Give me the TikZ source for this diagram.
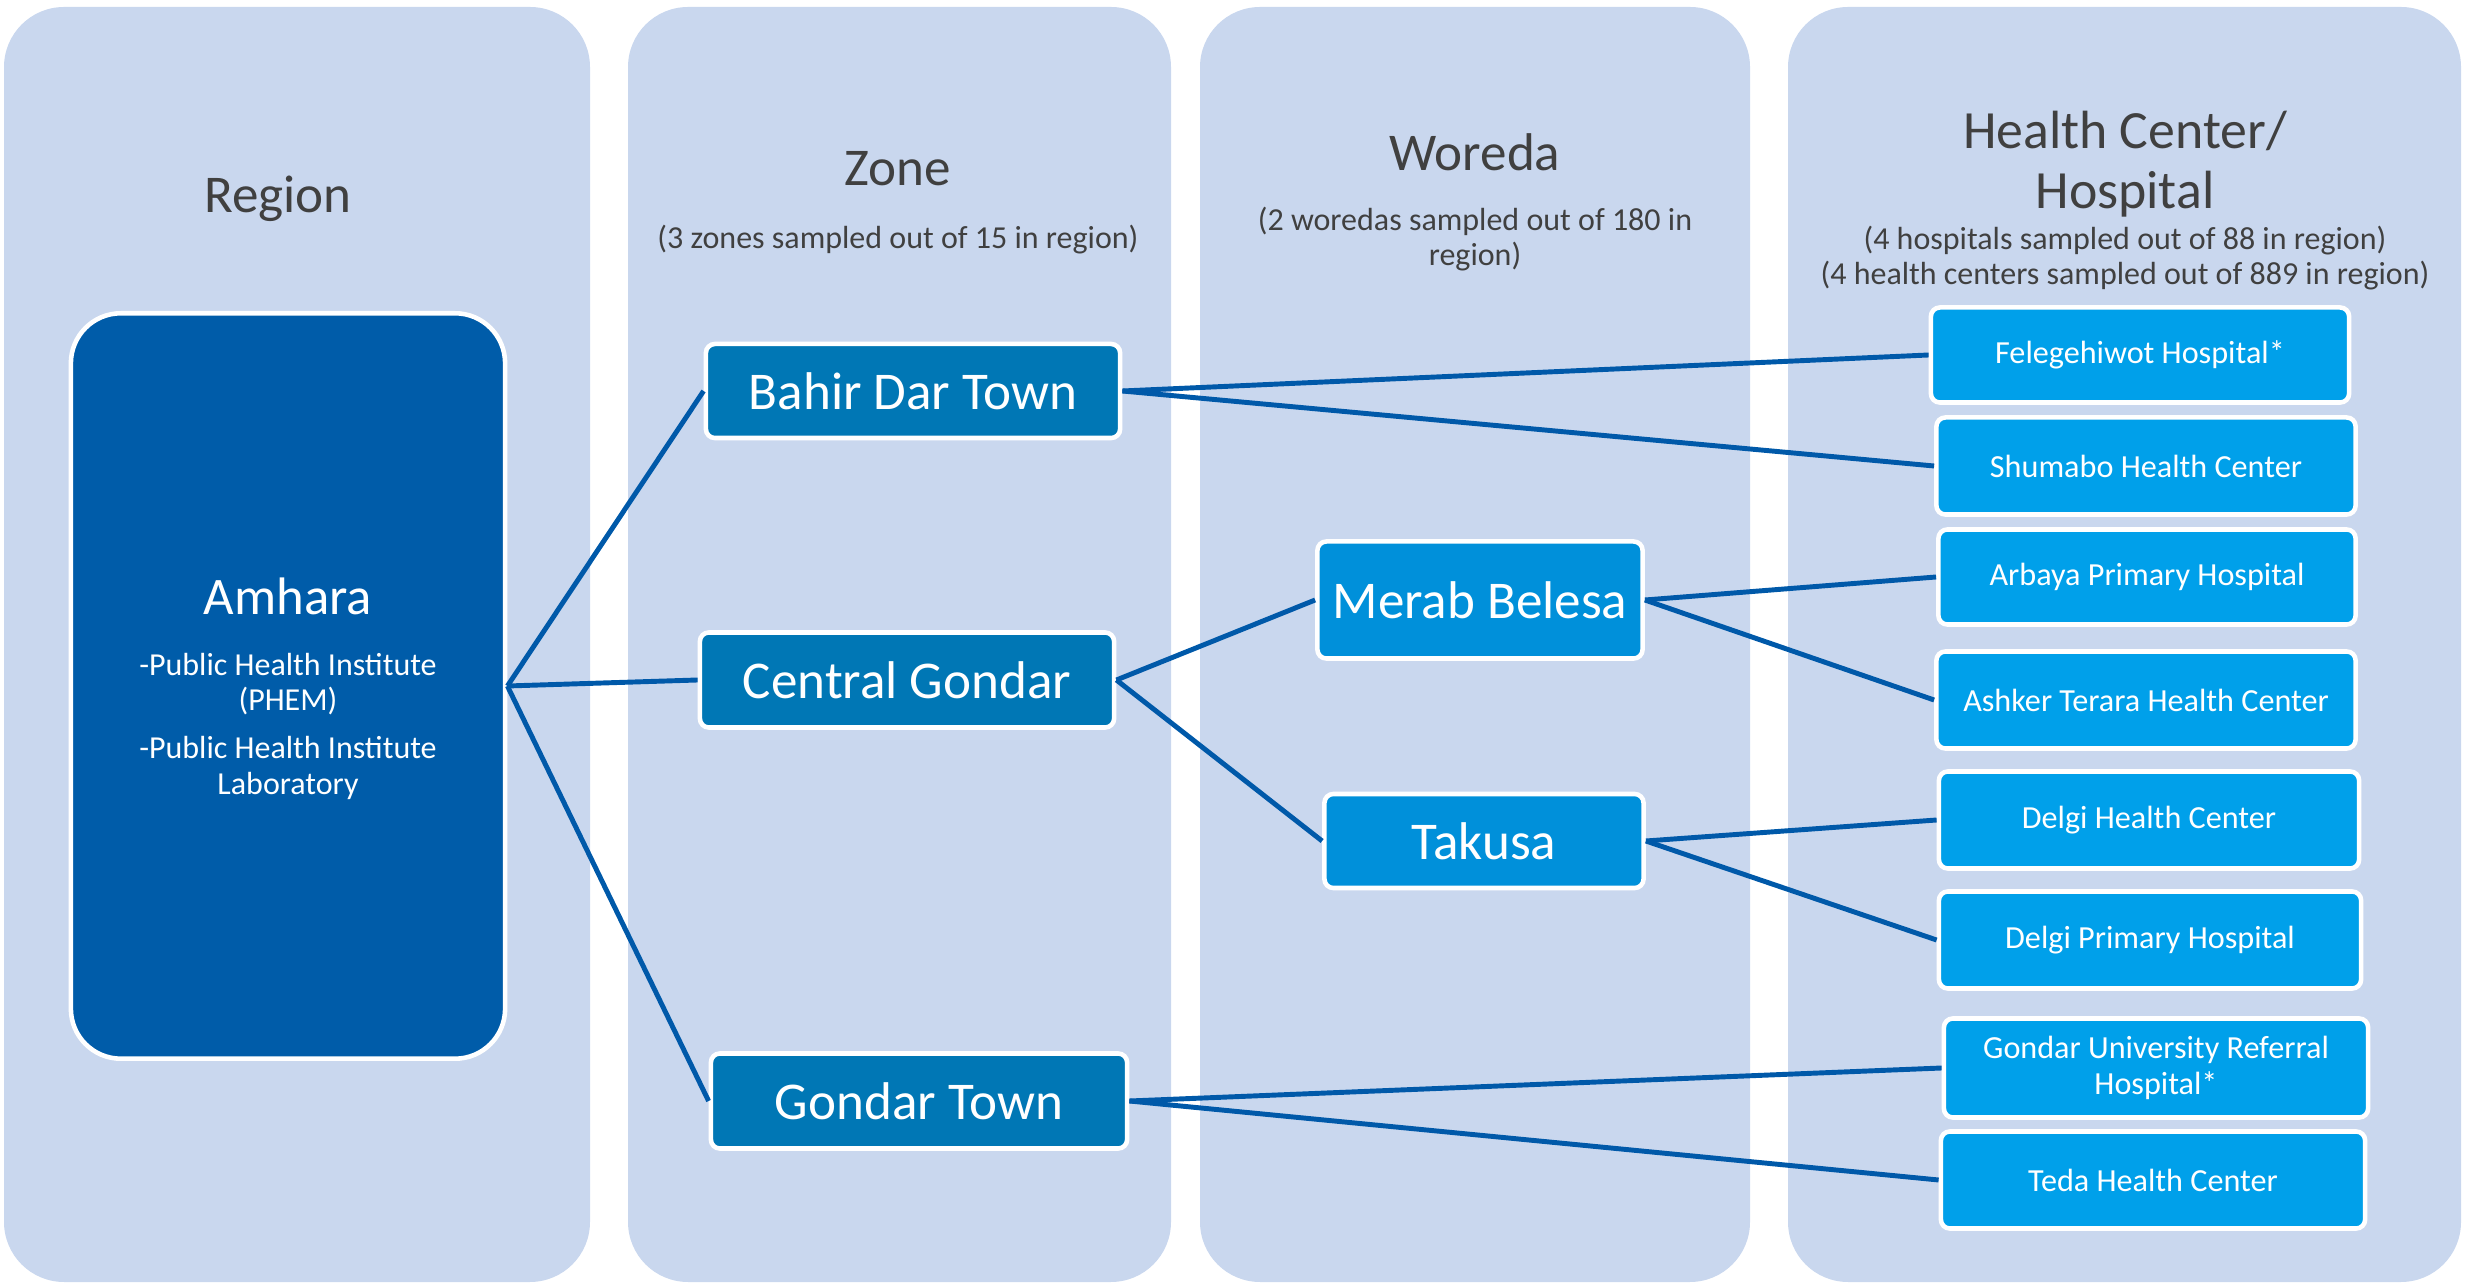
\documentclass[tikz,border=0pt]{standalone}
\usepackage{fontspec}
\setmainfont{Carlito}
\definecolor{colbg}{HTML}{C9D7EE}
\definecolor{regbox}{HTML}{005CA9}
\definecolor{zonebox}{HTML}{0077B5}
\definecolor{worbox}{HTML}{0090DA}
\definecolor{hosbox}{HTML}{00A0EA}
\definecolor{linkc}{HTML}{0059A9}
\definecolor{titlec}{HTML}{404040}
\tikzset{
  colpanel/.style={fill=colbg, rounded corners=0.6cm},
  boxbase/.style={draw=white, line width=1.3pt, rounded corners=0.09cm, inner sep=0pt, text=white, align=center},
  regstyle/.style={boxbase, fill=regbox, rounded corners=0.5cm},
  zonestyle/.style={boxbase, fill=zonebox, font=\fontsize{15.1}{17}\selectfont},
  worstyle/.style={boxbase, fill=worbox, font=\fontsize{15.1}{17}\selectfont},
  hosstyle/.style={boxbase, fill=hosbox, font=\fontsize{9.15}{10}\selectfont},
  link/.style={draw=linkc, line width=1.4pt},
  coltitle/.style={text=titlec, font=\fontsize{15.1}{17}\selectfont, align=center, inner sep=0pt},
  colsub/.style={text=titlec, font=\fontsize{9.1}{10}\selectfont, align=center, inner sep=0pt},
  regtext/.style={text=white, align=center, inner sep=0pt}
}
\begin{document}
\begin{tikzpicture}[x=0.01cm,y=-0.01cm]
\useasboundingbox (0,0) rectangle (2466,1283);
% column panels
\path[colpanel] (4,7) rectangle (590,1282);
\path[colpanel] (628,7) rectangle (1171,1282);
\path[colpanel] (1200,7) rectangle (1750,1282);
\path[colpanel] (1788,7) rectangle (2461,1282);
% titles
\node[coltitle] (tregion) at (278,199) {Region};
\node[coltitle] (tzone) at (898,169) {Zone};
\node[colsub] (szone) at (898,240) {(3 zones sampled out of 15 in region)};
\node[coltitle] (tworeda) at (1475,152) {Woreda};
\node[colsub] (sworeda) at (1475,239) {(2 woredas sampled out of 180 in\\region)};
\node[coltitle, font=\fontsize{15.3}{17}\selectfont] (thc) at (2125,164) {Health Center/\\Hospital};
\node[colsub] (shc) at (2125,258) {(4 hospitals sampled out of 88 in region)\\(4 health centers sampled out of 889 in region)};
% region box
\node[regstyle, minimum width=4.34cm, minimum height=7.45cm] (amhara) at (288,686) {};
\node[regtext, font=\fontsize{15}{17}\selectfont] (amharat) at (288,596) {Amhara};
\node[regtext, font=\fontsize{9.1}{10}\selectfont] (amd1) at (288,684) {-Public Health Institute\\(PHEM)};
\node[regtext, font=\fontsize{9.1}{10}\selectfont] (amd2) at (288,768) {-Public Health Institute\\Laboratory};
% zones
\node[zonestyle, minimum width=4.14cm, minimum height=0.94cm] (bahir) at (913,391) {Bahir Dar Town};
\node[zonestyle, minimum width=4.14cm, minimum height=0.95cm] (central) at (907,680) {Central Gondar};
\node[zonestyle, minimum width=4.16cm, minimum height=0.95cm] (gondart) at (919,1101) {Gondar Town};
% woredas
\node[worstyle, minimum width=3.25cm, minimum height=1.17cm] (merab) at (1480,600) {Merab Belesa};
\node[worstyle, minimum width=3.19cm, minimum height=0.94cm] (takusa) at (1484,841) {Takusa};
% health centers / hospitals
\node[hosstyle, minimum width=4.18cm, minimum height=0.95cm] (fele) at (2140,355) {Felegehiwot Hospital*};
\node[hosstyle, minimum width=4.19cm, minimum height=0.97cm] (shum) at (2146,466) {Shumabo Health Center};
\node[hosstyle, minimum width=4.17cm, minimum height=0.95cm] (arb) at (2147,577) {Arbaya Primary Hospital};
\node[hosstyle, minimum width=4.19cm, minimum height=0.97cm] (ash) at (2146,700) {Ashker Terara Health Center};
\node[hosstyle, minimum width=4.20cm, minimum height=0.97cm] (dhc) at (2149,820) {Delgi Health Center};
\node[hosstyle, minimum width=4.22cm, minimum height=0.97cm] (dph) at (2150,940) {Delgi Primary Hospital};
\node[hosstyle, minimum width=4.24cm, minimum height=0.99cm] (gurh) at (2156,1068) {Gondar University Referral\\Hospital*};
\node[hosstyle, minimum width=4.24cm, minimum height=0.97cm] (teda) at (2153,1180) {Teda Health Center};
% connectors
\draw[link] (amhara.east) -- (bahir.west);
\draw[link] (amhara.east) -- (central.west);
\draw[link] (amhara.east) -- (gondart.west);
\draw[link] (bahir.east) -- (fele.west);
\draw[link] (bahir.east) -- (shum.west);
\draw[link] (central.east) -- (merab.west);
\draw[link] (central.east) -- (takusa.west);
\draw[link] (merab.east) -- (arb.west);
\draw[link] (merab.east) -- (ash.west);
\draw[link] (takusa.east) -- (dhc.west);
\draw[link] (takusa.east) -- (dph.west);
\draw[link] (gondart.east) -- (gurh.west);
\draw[link] (gondart.east) -- (teda.west);
\end{tikzpicture}
\end{document}
